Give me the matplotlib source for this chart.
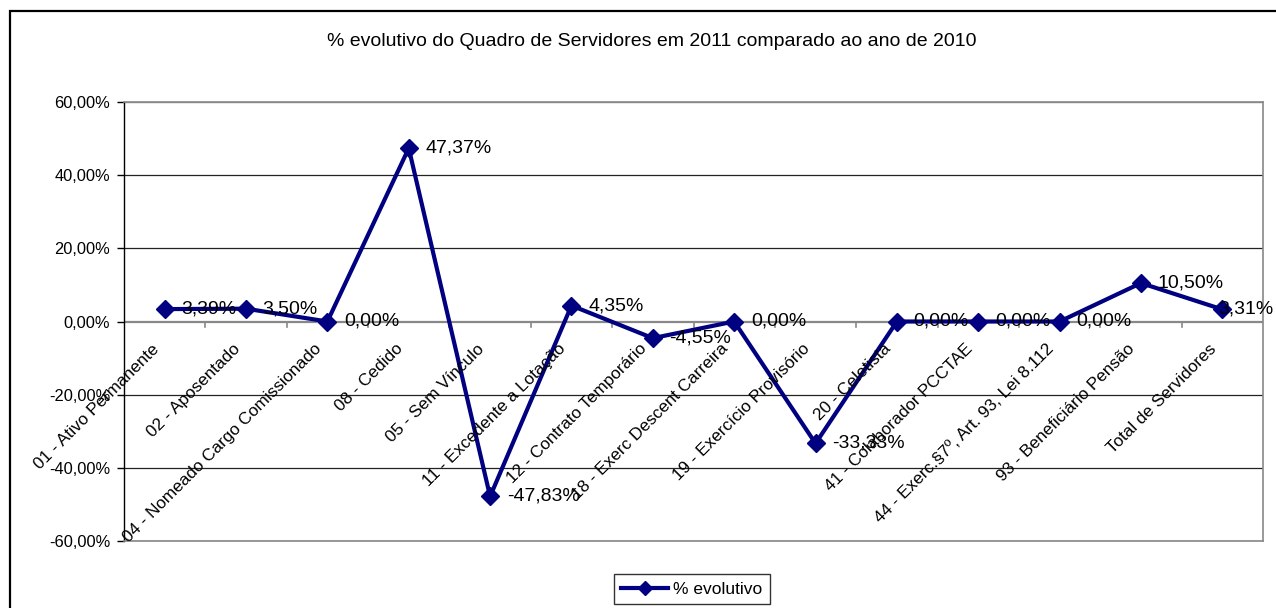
import matplotlib
matplotlib.use("Agg")
import matplotlib.pyplot as plt
from matplotlib.patches import Rectangle
from matplotlib.lines import Line2D

categories = [
    "01 - Ativo Permanente",
    "02 - Aposentado",
    "04 - Nomeado Cargo Comissionado",
    "08 - Cedido",
    "05 - Sem Vínculo",
    "11 - Excedente a Lotação",
    "12 - Contrato Temporário",
    "18 - Exerc Descent Carreira",
    "19 - Exercício Provisório",
    "20 - Celetista",
    "41 - Colaborador PCCTAE",
    "44 - Exerc.§7º, Art. 93, Lei 8.112",
    "93 - Beneficiário Pensão",
    "Total de Servidores",
]
values = [3.39, 3.50, 0.00, 47.37, -47.83, 4.35, -4.55, 0.00, -33.33, 0.00, 0.00, 0.00, 10.50, 3.31]
yticks = [-60, -40, -20, 0, 20, 40, 60]
title = "% evolutivo do Quadro de Servidores em 2011 comparado ao ano de 2010"
series_name = "% evolutivo"

plt.rcParams['font.family'] = ['Liberation Sans', 'DejaVu Sans']
FS_TICK = 11.8
FS_CAT = 12.3
FS_DATA = 14
FS_TITLE = 14
FS_LEG = 12.5
W, H = 1276, 608
fig = plt.figure(figsize=(W / 100, H / 100), dpi=100)

# outer frame
fig.add_artist(Rectangle((10 / W, -0.1), 1.2, (H - 11) / H + 0.1, transform=fig.transFigure,
                         fill=False, edgecolor='black', linewidth=1.6))

left, right, top, bottom = 124, 1263, 102, 541
ax = fig.add_axes([left / W, 1 - bottom / H, (right - left) / W, (bottom - top) / H])

n = len(categories)
x = list(range(n))
ax.set_xlim(-0.5, n - 0.5)
ax.set_ylim(-60, 60)

for yv in yticks:
    if yv in (0, 60):
        continue
    ax.axhline(yv, color='#222222', linewidth=0.9, zorder=1)
ax.axhline(60, color='#888888', linewidth=1.0, zorder=1)

ax.plot(x, values, color='#000080', linewidth=3.0, marker='D', markersize=9,
        markerfacecolor='#000080', markeredgecolor='#000080', zorder=3, clip_on=False)

ax.set_yticks(yticks)
ax.set_yticklabels([f"{v},00%" for v in yticks], fontsize=FS_TICK)
ax.tick_params(axis='y', direction='out', length=5, width=1, pad=5, color='black')
ax.set_xticks([])

for s in ('top', 'right', 'bottom'):
    ax.spines[s].set_color('#888888')
    ax.spines[s].set_linewidth(1.2)
ax.spines['left'].set_color('black')
ax.spines['left'].set_linewidth(1.0)

# category axis at y = 0
ax.axhline(0, color='#888888', linewidth=1.6, zorder=2)
for b in range(1, n):
    ax.plot([b - 0.5, b - 0.5], [0, -1.4], color='#888888', linewidth=1.2, zorder=2)

for xi, cat in zip(x, categories):
    ax.annotate(cat, xy=(xi, 0), xytext=(-6, -18), textcoords='offset points',
                rotation=45, rotation_mode='anchor', ha='right', va='center',
                fontsize=FS_CAT, zorder=4)

for xi, v in zip(x, values):
    lbl = f"{v:.2f}%".replace('.', ',')
    off = 12 if xi < n - 1 else -3
    ax.annotate(lbl, xy=(xi, v), xytext=(off, 0), textcoords='offset points',
                ha='left', va='center', fontsize=FS_DATA, zorder=4)

fig.text(652 / W, 1 - 42 / H, title, ha='center', va='center', fontsize=FS_TITLE)

handle = Line2D([], [], color='#000080', linewidth=3.0, marker='D', markersize=7)
leg = fig.legend([handle], [series_name], loc='center', bbox_to_anchor=(692 / W, 1 - 589 / H),
                 fontsize=FS_LEG, frameon=True, fancybox=False, edgecolor='black',
                 handlelength=2.7, borderpad=0.45, handletextpad=0.3, borderaxespad=0)
leg.get_frame().set_linewidth(1.0)

fig.savefig("out.png", dpi=100)
